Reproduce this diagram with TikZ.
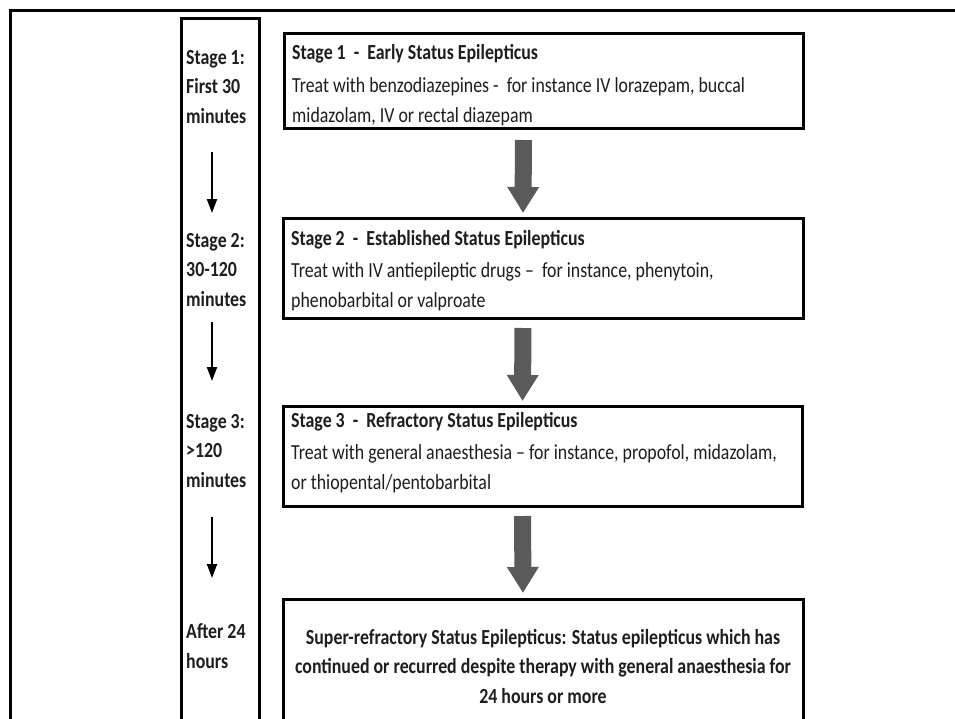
\documentclass[tikz,border=0pt]{standalone}
\usepackage{fontspec}
\setmainfont{Carlito}[FakeStretch=0.83]
\usetikzlibrary{arrows.meta,calc}
\definecolor{txtc}{HTML}{1E1E1E}
\definecolor{arrgray}{HTML}{5A5A5A}
\tikzset{
  framebox/.style={draw=black, line width=3pt, inner sep=0pt, outer sep=0pt, anchor=north west},
  boxtext/.style={text=txtc, inner sep=0pt, anchor=base west, align=left,
     font=\fontsize{21.5}{30}\selectfont},
  centertext/.style={text=txtc, inner sep=0pt, anchor=base, align=center,
     font=\fontsize{21.5}{29.5}\selectfont\bfseries},
  timetext/.style={text=txtc, inner sep=0pt, anchor=base west, align=left,
     font=\fontsize{21.5}{29.5}\selectfont\bfseries},
  bigarrow/.style={draw=arrgray, line width=17pt, -{Triangle[width=30pt,length=26pt]}},
  timearrow/.style={draw=black, line width=2pt, -{Triangle[width=10pt,length=14pt]}},
}
\begin{document}
\begin{tikzpicture}[x=1pt,y=-1pt]
\useasboundingbox (0,0) rectangle (955,718);
\clip (0,0) rectangle (955,718);
\fill[white] (0,0) rectangle (955,718);
% outer frame
\draw[line width=3pt] (10,740) -- (10,10) -- (970,10);
% timeline column
\node[framebox, minimum width=78pt, minimum height=725pt] (tl) at (181,18) {};
% anchors are at the baseline of the last line of each text
\node[timetext] (l1) at (186,123) {Stage 1:\\First 30\\minutes};
\node[timetext] (l2) at (186,306) {Stage 2:\\30-120\\minutes};
\node[timetext] (l3) at (186,487) {Stage 3:\\>120\\minutes};
\node[timetext] (l4) at (186,668) {After 24\\hours};
\coordinate (t1a) at (212,152); \coordinate (t1b) at (212,213);
\coordinate (t2a) at (212,322); \coordinate (t2b) at (212,381);
\coordinate (t3a) at (212,517); \coordinate (t3b) at (212,578);
\draw[timearrow] (t1a) -- (t1b);
\draw[timearrow] (t2a) -- (t2b);
\draw[timearrow] (t3a) -- (t3b);
% stage boxes
\node[framebox, minimum width=519pt, minimum height=95pt] (s1) at (284,33) {};
\node[framebox, minimum width=520pt, minimum height=100pt] (s2) at (283,218) {};
\node[framebox, minimum width=519pt, minimum height=100pt] (s3) at (283,406) {};
\node[framebox, minimum width=520pt, minimum height=140pt] (s4) at (283,599) {};
\node[boxtext] (b1) at (292,122) {\textbf{Stage 1\ \ -\ \ Early Status Epilepticus}\\[3pt]Treat with benzodiazepines -\ \ for instance IV lorazepam, buccal\\midazolam, IV or rectal diazepam};
\node[boxtext] (b2) at (291,307) {\textbf{Stage 2\ \ -\ \ Established Status Epilepticus}\\[2pt]Treat with IV antiepileptic drugs --\ \ for instance, phenytoin,\\phenobarbital or valproate};
\node[boxtext] (b3) at (291,489) {\textbf{Stage 3\ \ -\ \ Refractory Status Epilepticus}\\[2pt]Treat with general anaesthesia -- for instance, propofol, midazolam,\\or thiopental/pentobarbital};
\node[centertext] (b4) at (543,703) {Super-refractory Status Epilepticus: Status epilepticus which has\\continued or recurred despite therapy with general anaesthesia for\\24 hours or more};
% flow arrows
\draw[bigarrow, shorten <=12pt, shorten >=5pt] ([xshift=-20pt]s1.south) -- ([xshift=-20pt]s2.north);
\draw[bigarrow, shorten <=10pt, shorten >=5pt] ([xshift=-20pt]s2.south) -- ([xshift=-20pt]s3.north);
\draw[bigarrow, shorten <=10pt, shorten >=6pt] ([xshift=-20pt]s3.south) -- ([xshift=-20pt]s4.north);
\end{tikzpicture}
\end{document}
